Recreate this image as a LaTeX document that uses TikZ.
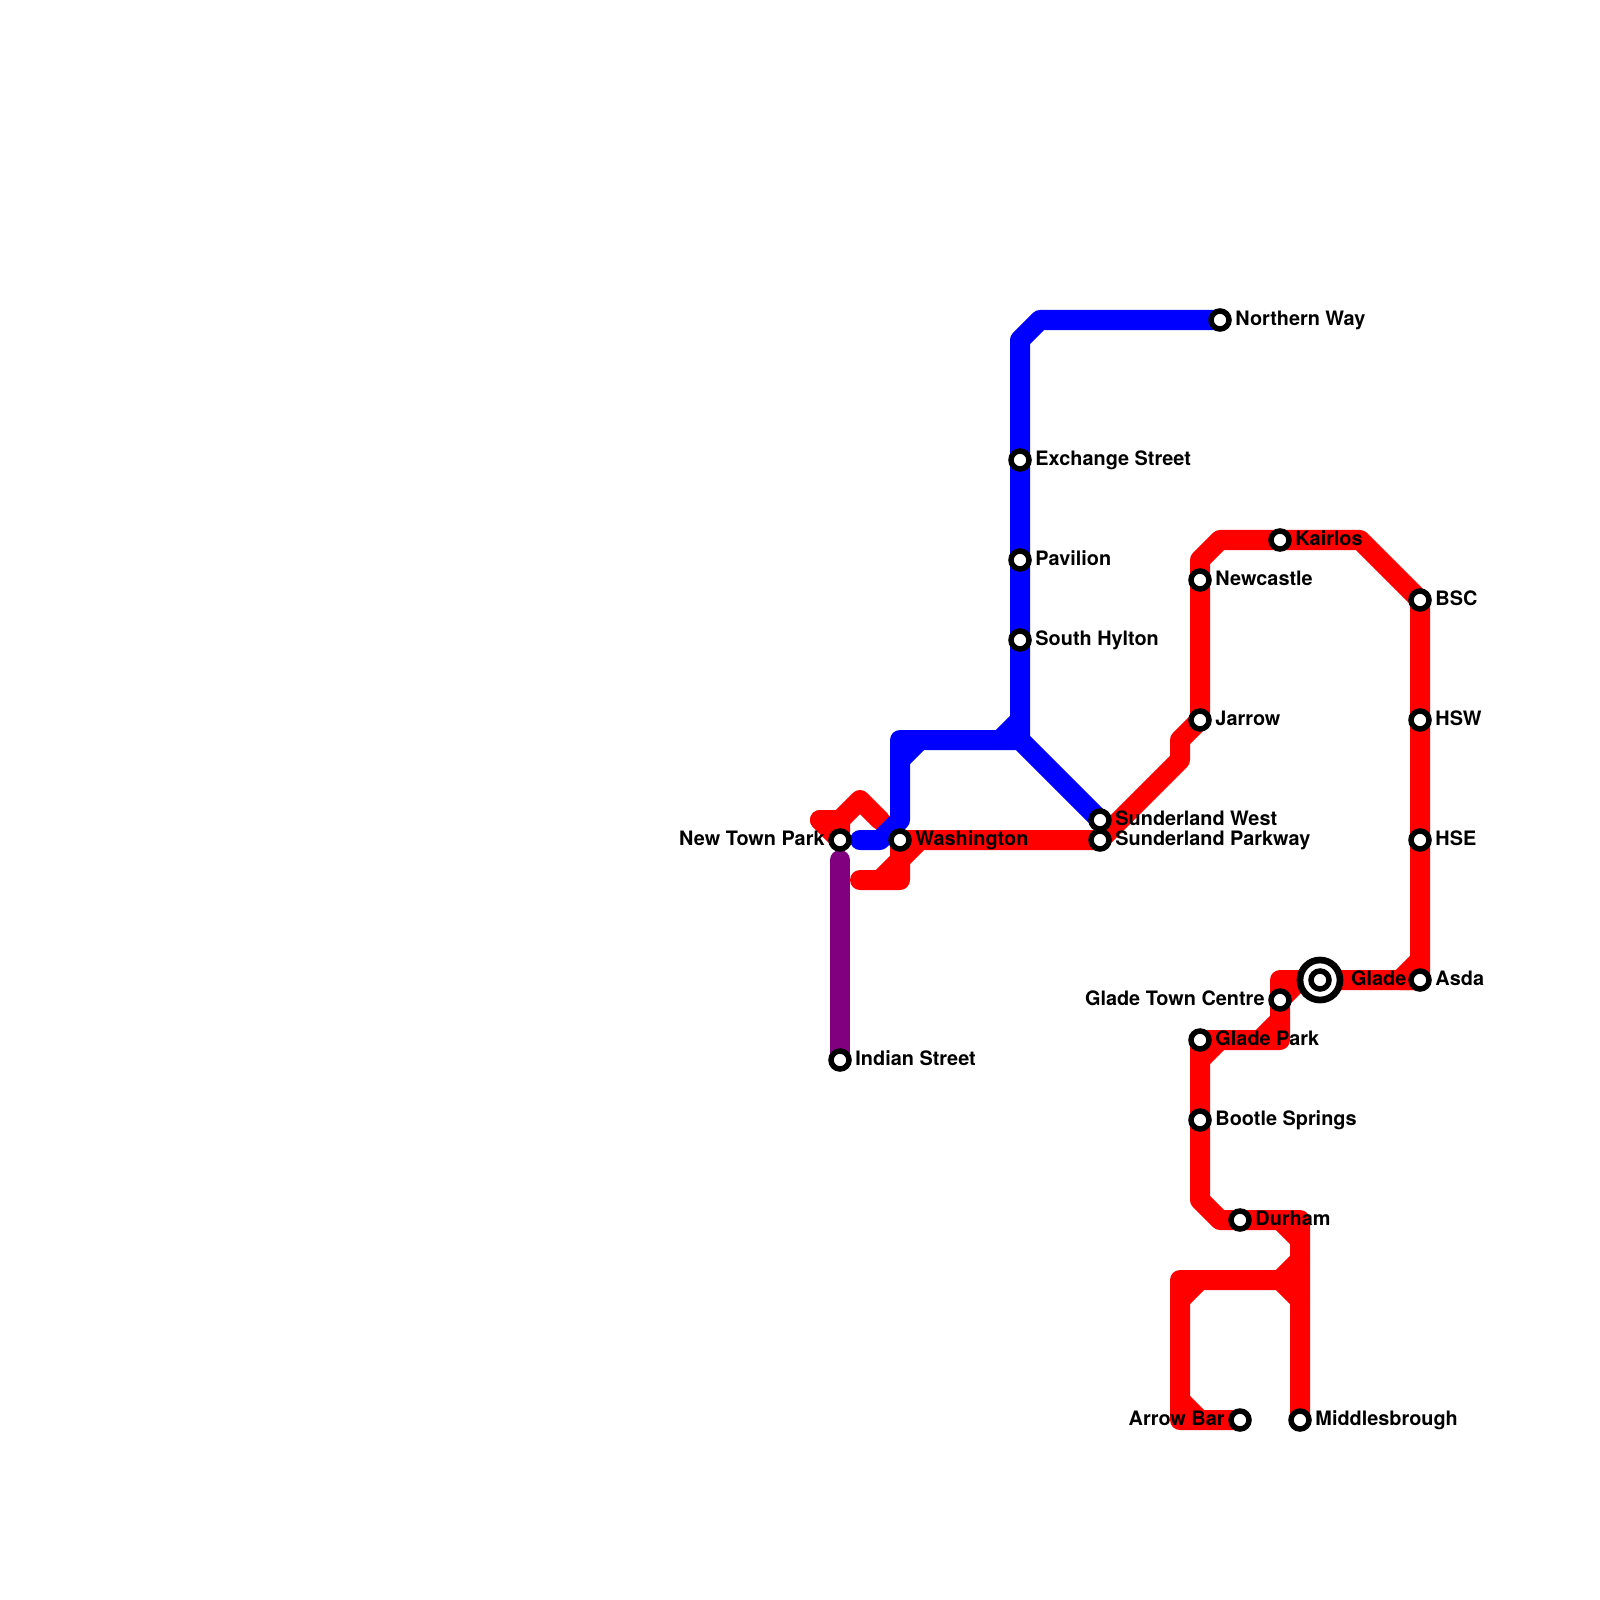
\documentclass[tikz,border=0pt]{standalone}
\usepackage{fontspec}
\setmainfont{TeX Gyre Heros}
\usetikzlibrary{positioning,backgrounds}
\definecolor{redline}{HTML}{FF0000}
\definecolor{blueline}{HTML}{0000FF}
\definecolor{purpleline}{HTML}{800080}
\tikzset{
  track/.style={line width=0.2cm, line cap=round, line join=round},
  redtrack/.style={track, draw=redline},
  bluetrack/.style={track, draw=blueline},
  purpletrack/.style={track, draw=purpleline},
  stn/.style={circle, draw=black, fill=white, line width=0.055cm, inner sep=0pt, minimum size=0.18cm},
  ring/.style={circle, draw=black, fill=white, line width=0.067cm, inner sep=0pt, minimum size=0.4cm},
  lbl/.style={font=\bfseries\fontsize{5.65pt}{6.5pt}\selectfont, inner sep=0pt, text height=0.14cm, text depth=0.04cm}
}
\begin{document}
\begin{tikzpicture}[x=0.01cm, y=-0.01cm, node distance=0.03cm]
    \useasboundingbox (0,0) rectangle (1600,1600);
    % stations
    \node[stn] (newtown) at (840,840) {};
    \node[stn] (washington) at (900,840) {};
    \node[stn] (indian) at (840,1060) {};
    \node[stn] (exchange) at (1020,460) {};
    \node[stn] (pavilion) at (1020,560) {};
    \node[stn] (hylton) at (1020,640) {};
    \node[stn] (northern) at (1220,320) {};
    \node[stn] (sunwest) at (1100,820) {};
    \node[stn] (sunpark) at (1100,840) {};
    \node[stn] (jarrow) at (1200,720) {};
    \node[stn] (newcastle) at (1200,580) {};
    \node[stn] (kairlos) at (1280,540) {};
    \node[stn] (bsc) at (1420,600) {};
    \node[stn] (hsw) at (1420,720) {};
    \node[stn] (hse) at (1420,840) {};
    \node[stn] (asda) at (1420,980) {};
    \node[ring] (gladering) at (1320,980) {};
    \node[stn] (glade) at (1320,980) {};
    \node[stn] (gladetown) at (1280,1000) {};
    \node[stn] (gladepark) at (1200,1040) {};
    \node[stn] (bootle) at (1200,1120) {};
    \node[stn] (durham) at (1240,1220) {};
    \node[stn] (arrow) at (1240,1420) {};
    \node[stn] (middlesbrough) at (1300,1420) {};
    \coordinate (gladejoin) at (1300,980);
    % labels
    \node[lbl, left=of newtown] (newtownlbl) {New Town Park};
    \node[lbl, right=of washington] (washingtonlbl) {Washington};
    \node[lbl, right=of indian] (indianlbl) {Indian Street};
    \node[lbl, right=of exchange] (exchangelbl) {Exchange Street};
    \node[lbl, right=of pavilion] (pavilionlbl) {Pavilion};
    \node[lbl, right=of hylton] (hyltonlbl) {South Hylton};
    \node[lbl, right=of northern] (northernlbl) {Northern Way};
    \node[lbl, right=of sunwest] (sunwestlbl) {Sunderland West};
    \node[lbl, right=of sunpark] (sunparklbl) {Sunderland Parkway};
    \node[lbl, right=of jarrow] (jarrowlbl) {Jarrow};
    \node[lbl, right=of newcastle] (newcastlelbl) {Newcastle};
    \node[lbl, right=of kairlos] (kairloslbl) {Kairlos};
    \node[lbl, right=of bsc] (bsclbl) {BSC};
    \node[lbl, right=of hsw] (hswlbl) {HSW};
    \node[lbl, right=of hse] (hselbl) {HSE};
    \node[lbl, right=of asda] (asdalbl) {Asda};
    \node[lbl, right=0.07cm of gladering] (gladelbl) {Glade};
    \node[lbl, left=of gladetown] (gladetownlbl) {Glade Town Centre};
    \node[lbl, right=of gladepark] (gladeparklbl) {Glade Park};
    \node[lbl, right=of bootle] (bootlelbl) {Bootle Springs};
    \node[lbl, right=of durham] (durhamlbl) {Durham};
    \node[lbl, left=of arrow] (arrowlbl) {Arrow Bar};
    \node[lbl, right=of middlesbrough] (middlesbroughlbl) {Middlesbrough};
    \begin{pgfonlayer}{background}
      % red line
      \draw[redtrack] (820,820) -- (newtown.center) -- (840,820) -- (860,800) -- (880,820);
      \draw[redtrack] (820,820) -- (840,820);
      \draw[redtrack] (860,880) -- (880,880) -- (900,860) -- (washington.center);
      \draw[redtrack] (880,880) -- (900,880) -- (900,860) -- (920,840) -- (sunpark.center);
      \draw[redtrack] (washington.center) -- (920,840);
      \draw[redtrack] (sunpark.center) -- (1180,760) -- (1180,740) -- (jarrow.center) -- (newcastle.center) -- (1200,560) -- (1220,540) -- (kairlos.center) -- (1360,540) -- (bsc.center) -- (hsw.center) -- (hse.center) -- (asda.center);
      \draw[redtrack] (1420,960) -- (1400,980) -- (asda.center);
      \draw[redtrack] (asda.center) -- (glade.center) -- (1280,980) -- (gladetown.center) -- (1280,1040) -- (gladepark.center) -- (bootle.center) -- (1200,1200) -- (1220,1220) -- (durham.center) -- (1300,1220) -- (middlesbrough.center);
      \draw[redtrack] (gladetown.center) -- (gladejoin);
      \draw[redtrack] (1280,1020) -- (1260,1040);
      \draw[redtrack] (1200,1060) -- (1220,1040);
      \draw[redtrack] (1280,1220) -- (1300,1240);
      \draw[redtrack] (1300,1260) -- (1280,1280) -- (1180,1280) -- (1180,1420) -- (arrow.center);
      \draw[redtrack] (1280,1280) -- (1300,1300);
      \draw[redtrack] (1180,1300) -- (1200,1280);
      \draw[redtrack] (1180,1400) -- (1200,1420);
      % blue line
      \draw[bluetrack] (860,840) -- (880,840) -- (900,820) -- (900,740) -- (1020,740) -- (sunwest.center);
      \draw[bluetrack] (900,760) -- (920,740);
      \draw[bluetrack] (1000,740) -- (1020,720);
      \draw[bluetrack] (1020,740) -- (hylton.center) -- (pavilion.center) -- (exchange.center) -- (1020,340) -- (1040,320) -- (northern.center);
      % purple line
      \draw[purpletrack] (840,860) -- (indian.center);
    \end{pgfonlayer}
  \end{tikzpicture}
\end{document}
